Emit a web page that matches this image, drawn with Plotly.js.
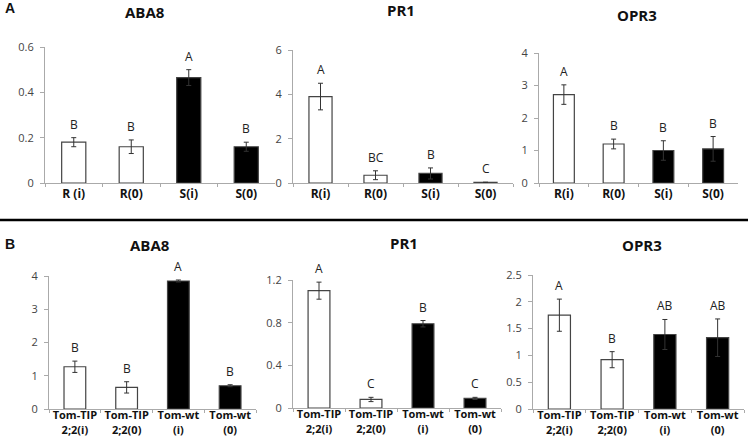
<!DOCTYPE html>
<html>
<head>
<meta charset="utf-8">
<script src="https://cdn.plot.ly/plotly-3.0.1.min.js"></script>
<style>html,body{margin:0;padding:0;background:#fff;}#chart{width:750px;height:442px;}</style>
</head>
<body>
<div id="chart"></div>
<script>
// ---- data ----
var catsA_ABA8 = ['R (i)', 'R(0)', 'S(i)', 'S(0)'];
var catsA = ['R(i)', 'R(0)', 'S(i)', 'S(0)'];
var catsB = ['Tom-TIP<br>2;2(i)', 'Tom-TIP<br>2;2(0)', 'Tom-wt<br>(i)', 'Tom-wt<br>(0)'];
var barColors = ['white', 'white', 'black', 'black'];

var A_ABA8 = [0.18, 0.16, 0.465, 0.16];
var A_ABA8_err = [0.02, 0.03, 0.035, 0.02];
var A_ABA8_letters = ['B', 'B', 'A', 'B'];

var A_PR1 = [3.9, 0.35, 0.43, 0.03];
var A_PR1_err = [0.6, 0.2, 0.25, 0.0];
var A_PR1_letters = ['A', 'BC', 'B', 'C'];

var A_OPR3 = [2.72, 1.2, 1.0, 1.05];
var A_OPR3_err = [0.3, 0.15, 0.3, 0.38];
var A_OPR3_letters = ['A', 'B', 'B', 'B'];

var B_ABA8 = [1.27, 0.65, 3.85, 0.7];
var B_ABA8_err = [0.17, 0.17, 0.03, 0.03];
var B_ABA8_letters = ['B', 'B', 'A', 'B'];

var B_PR1 = [1.1, 0.08, 0.79, 0.09];
var B_PR1_err = [0.08, 0.02, 0.03, 0.01];
var B_PR1_letters = ['A', 'C', 'B', 'C'];

var B_OPR3 = [1.75, 0.92, 1.39, 1.33];
var B_OPR3_err = [0.3, 0.15, 0.28, 0.35];
var B_OPR3_letters = ['A', 'B', 'AB', 'AB'];

var titles = ['ABA8', 'PR1', 'OPR3', 'ABA8', 'PR1', 'OPR3'];
var yMax = [0.6, 6, 4, 4, 1.2, 2.5];
var yDtick = [0.2, 2, 1, 1, 0.4, 0.5];

// ---- layout helpers ----
var W = 750, H = 442;
var panels = [
  {cats: catsA_ABA8, y: A_ABA8, e: A_ABA8_err, l: A_ABA8_letters, x0: 45, x1: 275, yt: 47, yb: 183, tx: 145, ty: 12, fs: 12, so: 0},
  {cats: catsA, y: A_PR1, e: A_PR1_err, l: A_PR1_letters, x0: 293, x1: 513, yt: 50, yb: 183, tx: 401, ty: 10, fs: 12, so: 0},
  {cats: catsA, y: A_OPR3, e: A_OPR3_err, l: A_OPR3_letters, x0: 539, x1: 738, yt: 53, yb: 183, tx: 637, ty: 15, fs: 12, so: 0},
  {cats: catsB, y: B_ABA8, e: B_ABA8_err, l: B_ABA8_letters, x0: 49, x1: 256, yt: 276, yb: 409, tx: 150, ty: 245, fs: 11, so: -4},
  {cats: catsB, y: B_PR1, e: B_PR1_err, l: B_PR1_letters, x0: 293, x1: 501, yt: 280, yb: 408, tx: 404, ty: 243, fs: 11, so: -4},
  {cats: catsB, y: B_OPR3, e: B_OPR3_err, l: B_OPR3_letters, x0: 533, x1: 744, yt: 275, yb: 409, tx: 642, ty: 245, fs: 11, so: -4}
];

var traces = [];
var layout = {
  width: W, height: H,
  margin: {l: 0, r: 0, t: 0, b: 0},
  paper_bgcolor: 'white', plot_bgcolor: 'white',
  showlegend: false,
  bargap: 0.58,
  font: {family: 'Open Sans, Noto Sans, sans-serif', color: '#333'},
  annotations: [],
  shapes: [{type: 'line', xref: 'paper', yref: 'paper', x0: 0, x1: 748 / W, y0: 1 - 220 / H, y1: 1 - 220 / H, line: {color: 'black', width: 2.5}}]
};

panels.forEach(function (p, i) {
  var n = i + 1;
  var xa = 'x' + (n === 1 ? '' : n), ya = 'y' + (n === 1 ? '' : n);
  traces.push({
    type: 'bar', x: p.cats, y: p.y, xaxis: xa, yaxis: ya,
    marker: {color: barColors, line: {color: '#444', width: 1.2}},
    error_y: {type: 'data', array: p.e, visible: true, color: '#333', thickness: 1, width: 2.5},
    hoverinfo: 'skip'
  });
  var xk = 'xaxis' + (n === 1 ? '' : n), yk = 'yaxis' + (n === 1 ? '' : n);
  layout[xk] = {
    domain: [p.x0 / W, p.x1 / W], anchor: ya, type: 'category',
    range: [-0.5, 3.5], showline: true, linecolor: '#aaa', linewidth: 1,
    ticks: 'outside', tickson: 'boundaries', ticklen: 3, tickcolor: '#aaa',
    showgrid: false, zeroline: false, fixedrange: true, tickangle: 0,
    ticklabelstandoff: p.so,
    tickfont: {family: 'Open Sans, sans-serif', size: p.fs, color: '#111', weight: 'bold'}
  };
  layout[yk] = {
    domain: [1 - p.yb / H, 1 - p.yt / H], anchor: xa,
    range: [0, yMax[i]], dtick: yDtick[i], tick0: 0,
    showline: true, linecolor: '#aaa', linewidth: 1,
    ticks: 'outside', ticklen: 4, tickcolor: '#aaa',
    showgrid: false, zeroline: false, fixedrange: true,
    tickfont: {family: 'Open Sans, sans-serif', size: 11, color: '#444'},
    ticklabelstandoff: 4
  };
  // title
  layout.annotations.push({
    xref: 'paper', yref: 'paper', x: p.tx / W, y: 1 - p.ty / H,
    xanchor: 'center', yanchor: 'middle', showarrow: false,
    text: '<b>' + titles[i] + '</b>',
    font: {family: 'Open Sans, sans-serif', size: 15, color: '#111'}
  });
  // letters
  p.l.forEach(function (lt, j) {
    layout.annotations.push({
      xref: xa, yref: ya, x: p.cats[j], y: p.y[j] + p.e[j],
      xanchor: 'center', yanchor: 'bottom', yshift: 3, showarrow: false,
      text: lt, font: {family: 'Open Sans, sans-serif', size: 12, color: '#222'}
    });
  });
});

// panel letters
layout.annotations.push({xref: 'paper', yref: 'paper', x: 3 / W, y: 1 - 8 / H, xanchor: 'left', yanchor: 'middle', showarrow: false,
  text: '<b>A</b>', font: {family: 'Liberation Sans, Arial, sans-serif', size: 14, color: '#111'}});
layout.annotations.push({xref: 'paper', yref: 'paper', x: 3 / W, y: 1 - 244 / H, xanchor: 'left', yanchor: 'middle', showarrow: false,
  text: '<b>B</b>', font: {family: 'Liberation Sans, Arial, sans-serif', size: 14, color: '#111'}});

Plotly.newPlot('chart', traces, layout, {displayModeBar: false, staticPlot: true});
</script>
</body>
</html>
